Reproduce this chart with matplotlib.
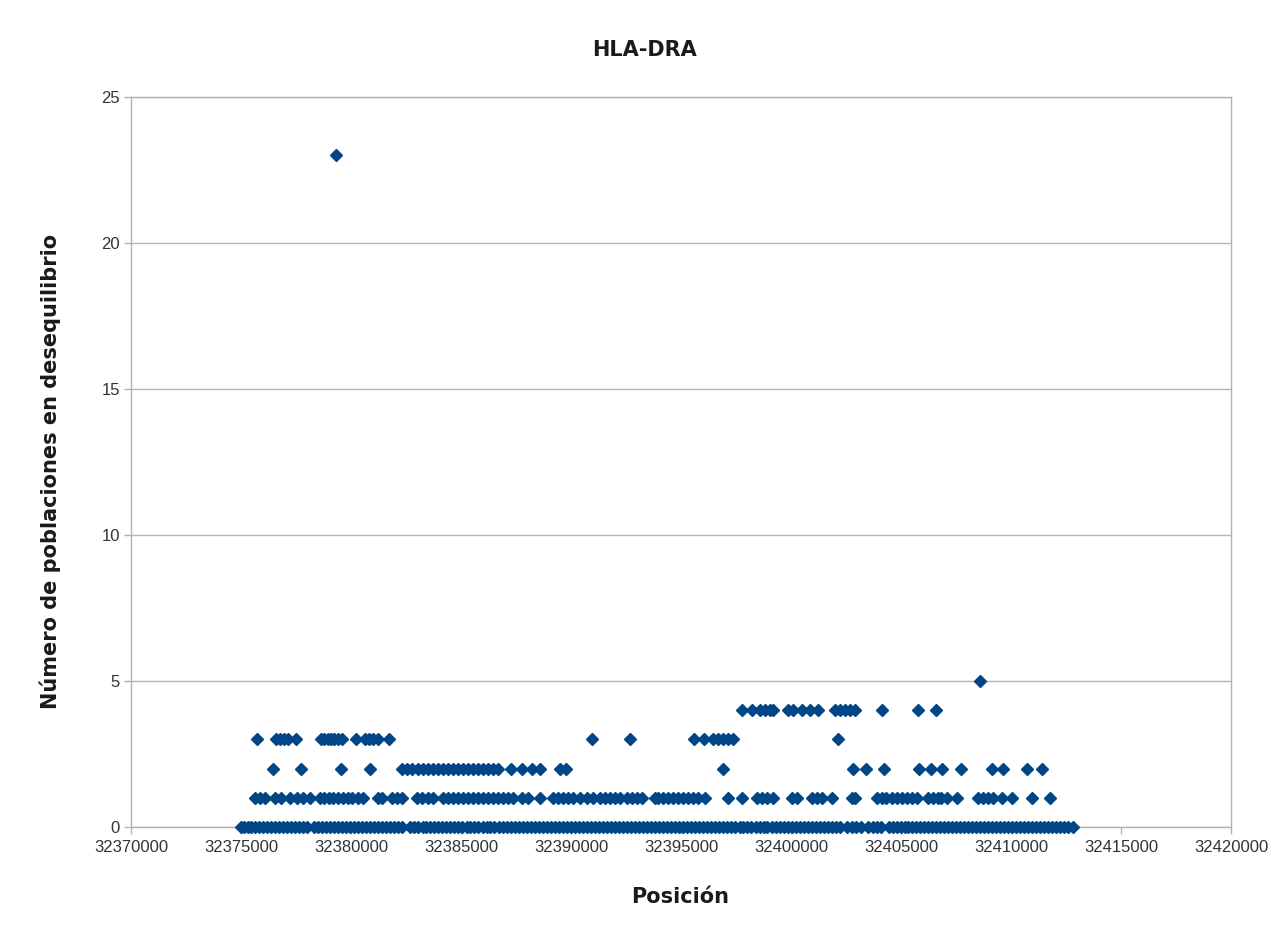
import matplotlib
matplotlib.use("Agg")
import matplotlib.pyplot as plt
from matplotlib.ticker import FixedLocator, FuncFormatter

# SNP positions grouped by number of populations in disequilibrium
pos_0 = [
    32375010, 32375120, 32375300, 32375460, 32375650, 32375820, 32376010, 32376190,
    32376370, 32376540, 32376730, 32376900, 32377080, 32377260, 32377450, 32377620,
    32377800, 32377990, 32378330, 32378510, 32378700, 32378880, 32379060, 32379240,
    32379410, 32379600, 32379780, 32379960, 32380140, 32380320, 32380500, 32380690,
    32380870, 32381050, 32381230, 32381410, 32381600, 32381780, 32381960, 32382140,
    32382310, 32382700, 32382880, 32383060, 32383250, 32383430, 32383610, 32383790,
    32383970, 32384150, 32384340, 32384520, 32384700, 32384880, 32385060, 32385250,
    32385430, 32385610, 32385790, 32385980, 32386160, 32386340, 32386520, 32386710,
    32386890, 32387070, 32387250, 32387440, 32387620, 32387800, 32387980, 32388170,
    32388350, 32388530, 32388710, 32388900, 32389080, 32389260, 32389440, 32389630,
    32389810, 32389990, 32390170, 32390360, 32390540, 32390720, 32390900, 32391090,
    32391270, 32391450, 32391630, 32391820, 32392000, 32392180, 32392360, 32392550,
    32392730, 32392910, 32393090, 32393280, 32393460, 32393640, 32393820, 32394010,
    32394190, 32394370, 32394550, 32394740, 32394920, 32395100, 32395280, 32395470,
    32395650, 32395830, 32396010, 32396200, 32396380, 32396560, 32396740, 32396930,
    32397110, 32397290, 32397470, 32397660, 32397840, 32398020, 32398200, 32398390,
    32398570, 32398750, 32398930, 32399120, 32399300, 32399480, 32399660, 32399850,
    32400030, 32400210, 32400390, 32400580, 32400760, 32400940, 32401120, 32401310,
    32401490, 32401670, 32401850, 32402040, 32402220, 32402560, 32402760, 32402950,
    32403170, 32403520, 32403720, 32403900, 32404080, 32404440, 32404640, 32404820,
    32405000, 32405180, 32405310, 32405490, 32405670, 32405850, 32406040, 32406220,
    32406400, 32406580, 32406770, 32406950, 32407130, 32407310, 32407500, 32407680,
    32407860, 32408040, 32408230, 32408410, 32408590, 32408770, 32408960, 32409140,
    32409320, 32409500, 32409690, 32409870, 32410050, 32410230, 32410420, 32410600,
    32410780, 32410960, 32411150, 32411330, 32411510, 32411690, 32411880, 32412060,
    32412240, 32412420, 32412610, 32412800,
]

pos_1 = [
    32375640, 32375860, 32376090, 32376550, 32376820, 32377230, 32377530, 32377830,
    32378140, 32378590, 32378790, 32379000, 32379200, 32379420, 32379650, 32379880,
    32380030, 32380330, 32380560, 32381240, 32381390, 32381850, 32382080, 32382300,
    32382990, 32383210, 32383510, 32383740, 32384190, 32384420, 32384650, 32384880,
    32385100, 32385330, 32385560, 32385790, 32386010, 32386240, 32386470, 32386690,
    32386920, 32387150, 32387380, 32387760, 32388060, 32388590, 32389190, 32389420,
    32389650, 32389880, 32390100, 32390410, 32390710, 32391010, 32391320, 32391540,
    32391770, 32392000, 32392220, 32392530, 32392760, 32392980, 32393210, 32393820,
    32393970, 32394190, 32394420, 32394650, 32394880, 32395100, 32395330, 32395560,
    32395780, 32396090, 32397150, 32397780, 32398440, 32398660, 32398890, 32399190,
    32400030, 32400250, 32400940, 32401160, 32401390, 32401850, 32402760, 32402910,
    32403890, 32404120, 32404340, 32404570, 32404800, 32405030, 32405250, 32405480,
    32405710, 32406240, 32406460, 32406690, 32406840, 32407070, 32407560, 32408510,
    32408740, 32408960, 32409190, 32409570, 32410030, 32410940, 32411770,
]

pos_2 = [
    32376470, 32377730, 32379550, 32380860, 32382300, 32382530, 32382760, 32383060,
    32383290, 32383510, 32383740, 32383970, 32384190, 32384420, 32384650, 32384880,
    32385100, 32385330, 32385560, 32385790, 32386010, 32386240, 32386470, 32386690,
    32387270, 32387760, 32388210, 32388590, 32389500, 32389770, 32396920, 32402830,
    32403390, 32404220, 32405830, 32406350, 32406850, 32407710, 32409120, 32409650,
    32410710, 32411390,
]

pos_3 = [
    32375740, 32376580, 32376770, 32376970, 32377150, 32377500, 32378640, 32378790,
    32378940, 32379090, 32379240, 32379420, 32379600, 32380230, 32380640, 32380820,
    32381010, 32381240, 32381740, 32390940, 32392680, 32395600, 32396060, 32396470,
    32396690, 32396920, 32397150, 32397370, 32402120,
]

pos_4 = [
    32397780, 32398210, 32398590, 32398820, 32399040, 32399190, 32399870, 32400100,
    32400480, 32400860, 32401240, 32402000, 32402220, 32402450, 32402680, 32402910,
    32404120, 32405760, 32406570,
]

pos_5 = [32408590]
pos_23 = [32379320]

groups = [(0, pos_0), (1, pos_1), (2, pos_2), (3, pos_3), (4, pos_4), (5, pos_5), (23, pos_23)]

x_ticks = list(range(32370000, 32420001, 5000))
y_ticks = [0, 5, 10, 15, 20, 25]

point_color = "#004586"
grid_color = "#b3b3b3"

fig = plt.figure(figsize=(12.88, 9.25), dpi=100)
ax = fig.add_axes([131 / 1288, 1 - 827 / 925, 1100 / 1288, 730 / 925])

for level, xs in groups:
    ax.plot(xs, [level] * len(xs), linestyle="none", marker="D", markersize=6.5,
            color=point_color, markeredgecolor=point_color, zorder=3, clip_on=False)

ax.set_xlim(32370000, 32420000)
ax.set_ylim(0, 25)
ax.xaxis.set_major_locator(FixedLocator(x_ticks))
ax.yaxis.set_major_locator(FixedLocator(y_ticks))
ax.xaxis.set_major_formatter(FuncFormatter(lambda v, p: f"{int(round(v))}"))
ax.yaxis.set_major_formatter(FuncFormatter(lambda v, p: f"{int(round(v))}"))

ax.grid(axis="y", color=grid_color, linewidth=1.0, zorder=0)
ax.grid(axis="x", visible=False)
for side in ["left", "right", "top", "bottom"]:
    ax.spines[side].set_color(grid_color)
    ax.spines[side].set_linewidth(1.0)

ax.tick_params(axis="both", direction="out", length=5, width=1.0, color=grid_color,
               pad=3, labelsize=12, labelcolor="#333333")
ax.tick_params(axis="x", pad=4)
for lab in ax.get_xticklabels() + ax.get_yticklabels():
    lab.set_family("Liberation Sans")

fig.text(0.5, 1 - 50 / 925, "HLA-DRA", ha="center", va="center",
         fontsize=15, fontweight="bold", family="DejaVu Sans", color="#1a1a1a")
fig.text(680 / 1288, 1 - 897 / 925, "Posición", ha="center", va="center",
         fontsize=15, fontweight="bold", family="DejaVu Sans", color="#1a1a1a")
fig.text(50 / 1288, 1 - 471 / 925, "Número de poblaciones en desequilibrio",
         ha="center", va="center", rotation=90,
         fontsize=15, fontweight="bold", family="DejaVu Sans", color="#1a1a1a")

fig.savefig("out.png", dpi=100, facecolor="white")
